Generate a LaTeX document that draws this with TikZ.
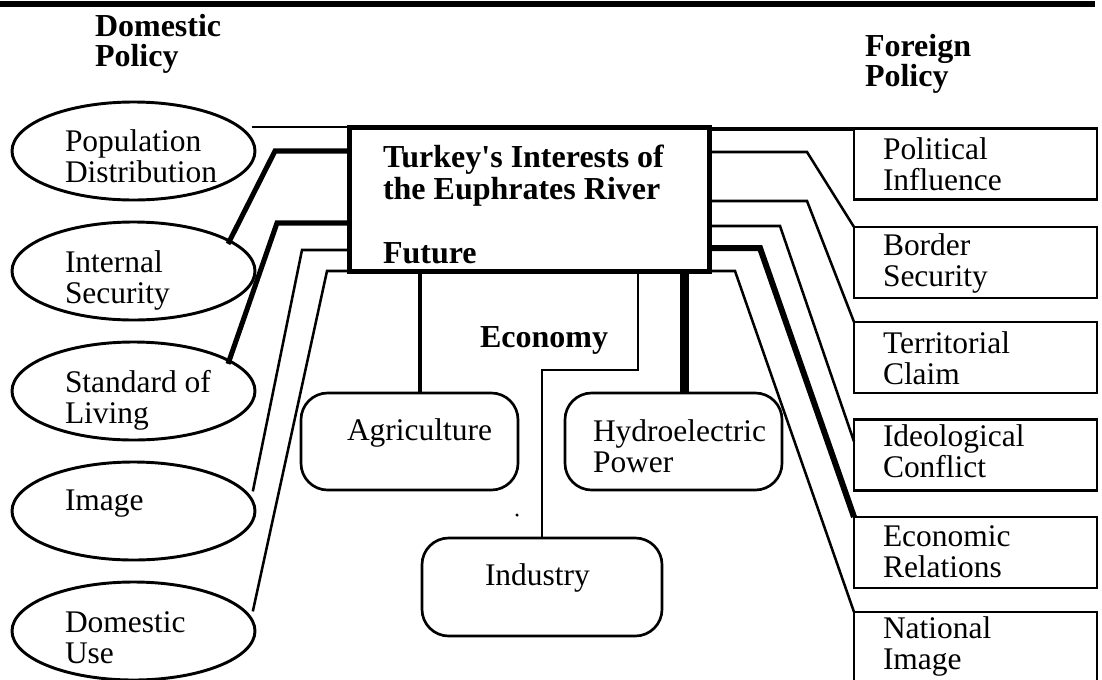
\documentclass[tikz,border=0pt]{standalone}
\usepackage{fontspec}
\setmainfont{Liberation Serif}[Ligatures=TeXOff]
\usetikzlibrary{shapes.geometric}
\begin{document}
\begin{tikzpicture}[x=0.75pt,y=-0.75pt,
  tx/.style={anchor=base west,align=left,inner sep=0,outer sep=0,
     font=\fontsize{23.6}{23.25}\selectfont},
  bx/.style={anchor=base west,align=left,inner sep=0,outer sep=0,
     font=\bfseries\fontsize{24}{24}\selectfont},
  hx/.style={anchor=base west,align=left,inner sep=0,outer sep=0,
     font=\bfseries\fontsize{24}{22}\selectfont},
  oval/.style={ellipse,draw,line width=2.2pt,inner sep=0,outer sep=0,
     minimum width=182.25pt,minimum height=73.5pt},
  fbox/.style={rectangle,draw,line width=2.2pt,inner sep=0,outer sep=0,
     minimum width=182.25pt,minimum height=53.25pt},
  rbox/.style={rectangle,rounded corners=20pt,draw,line width=2pt,inner sep=0,outer sep=0,
     minimum height=72.75pt},
  conthin/.style={line width=1.9pt},
  conthick/.style={line width=3.8pt},
  conheavy/.style={line width=6.8pt}
]
\useasboundingbox (0,0) rectangle (1102,679);

% top rule
\coordinate (ruleL) at (0,4);
\coordinate (ruleR) at (1095,4);
\draw[line width=4.5pt] (ruleL) -- (ruleR);

% headers (anchor on the baseline of the last line)
\node[hx] (hdom) at (95,66) {Domestic\\Policy};
\node[hx] (hfor) at (865,86) {Foreign\\Policy};

% central box
\node[rectangle,draw,line width=3.75pt,inner sep=0,outer sep=0,
      minimum width=270pt,minimum height=108pt] (main) at (529,199) {};
\node[bx] (title) at (383,199) {Turkey's Interests of\\the Euphrates River};
\node[bx] (future) at (383,263) {Future};

% domestic ellipses
\node[oval] (pop) at (133.5,151) {};
\node[oval] (ise) at (133.5,271) {};
\node[oval] (sol) at (133.5,391) {};
\node[oval] (img) at (133.5,511) {};
\node[oval] (duse) at (133.5,631) {};
\node[tx] (tpop) at (65,182) {Population\\Distribution};
\node[tx] (tise) at (65,303) {Internal\\Security};
\node[tx] (tsol) at (65,423) {Standard of\\Living};
\node[tx] (timg) at (65,510) {Image};
\node[tx] (tduse) at (65,663) {Domestic\\Use};

% foreign boxes
\node[fbox] (pol) at (975.5,164) {};
\node[fbox] (bor) at (975.5,262.5) {};
\node[fbox] (ter) at (975.5,357.5) {};
\node[fbox] (ide) at (975.5,455) {};
\node[fbox] (eco) at (975.5,552.5) {};
\node[fbox] (nat) at (975.5,647.5) {};
\node[tx] (tpol) at (883,190) {Political\\Influence};
\node[tx] (tbor) at (883,286) {Border\\Security};
\node[tx] (tter) at (883,384) {Territorial\\Claim};
\node[tx] (tide) at (883,477) {Ideological\\Conflict};
\node[tx] (teco) at (883,577) {Economic\\Relations};
\node[tx] (tnat) at (883,669) {National\\Image};

% economy boxes
\node[rbox,minimum width=162.75pt] (agr) at (409.5,441.5) {};
\node[rbox,minimum width=162.75pt] (hyd) at (673.5,441.5) {};
\node[rbox,minimum width=180pt,minimum height=73.5pt] (ind) at (542,587) {};
\node[tx] (tagr) at (347,440) {Agriculture};
\node[tx] (thyd) at (593,472) {Hydroelectric\\Power};
\node[tx] (tind) at (485,585) {Industry};
\node[bx] (econ) at (480,347) {Economy};
\node[circle,fill,inner sep=0,minimum size=2.6pt] (dot) at (517,515) {};

% left connectors
\draw[conthin] (main.north west) -- ([xshift=-2pt]pop.east |- main.north west);
\draw[conthick] ([yshift=-18pt]main.north west) -- ++(-74,0) -- ([xshift=-5pt]ise.15);
\draw[conthick] ([yshift=-72pt]main.north west) -- ++(-72,0) -- ([xshift=-5pt]sol.15);
\draw[conthin] ([yshift=-92.25pt]main.north west) -- ++(-47,0) -- ([xshift=6pt]img.10);
\draw[conthin] (main.south west) -- ++(-22,0) -- ([xshift=6pt]duse.10);

% bottom connectors
\coordinate (agrtop) at ([xshift=7.9pt]agr.north);
\draw[line width=3.4pt] (agrtop |- main.south) -- (agrtop);
\coordinate (hydtop) at ([xshift=7.9pt]hyd.north);
\draw[conheavy] (hydtop |- main.south) -- (hydtop);
\coordinate (ecotop) at ([xshift=72pt]main.south -| ind.north);
\draw[conthin] (ind.north) -- ++(0,-168) -| (ecotop);

% right connectors
\draw[line width=3pt] (main.north east |- pol.north west) -- (pol.north west);
\draw[conthin] ([yshift=-18.75pt]main.north east) -- ++(98,0) -- (bor.north west);
\draw[conthin] ([yshift=-55.5pt]main.north east) -- ++(98,0) -- (ter.north west);
\draw[conthin] ([yshift=-74.25pt]main.north east) -- ++(71,0) -- ([yshift=-16.5pt]ide.north west);
\draw[conthick,line width=4.5pt] ([yshift=-90.75pt]main.north east) -- ++(51,0) -- (eco.north west);
\draw[conthin] (main.south east) -- ++(26,0) -- (nat.north west);
\end{tikzpicture}
\end{document}
